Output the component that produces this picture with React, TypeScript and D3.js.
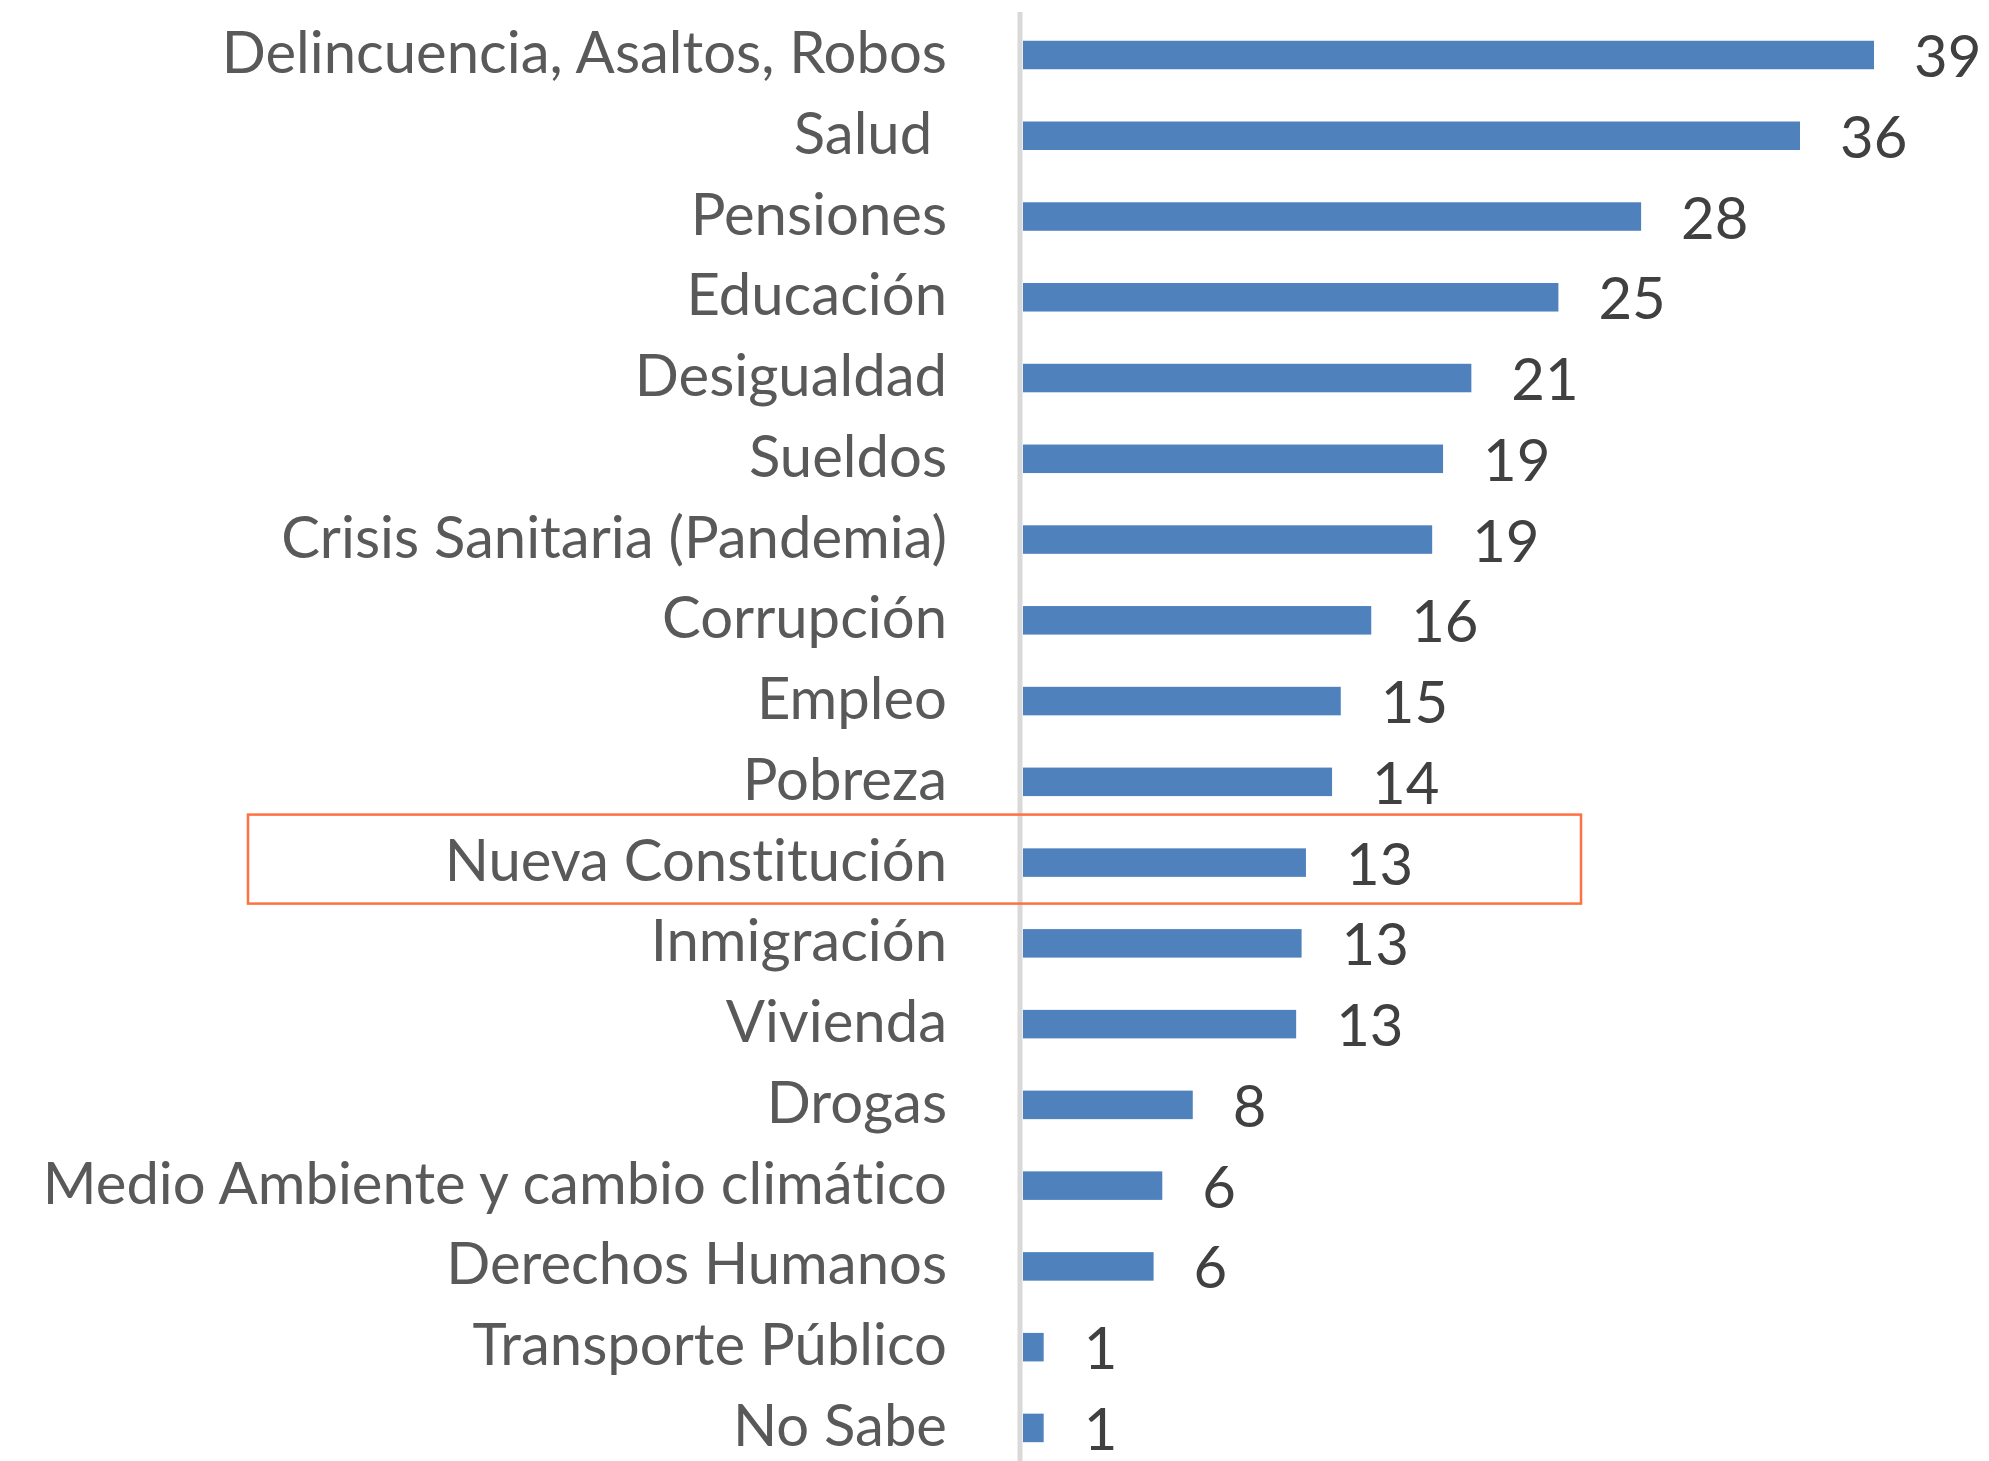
import React from "react";
import * as d3 from "d3";

const categories = [
  "Delincuencia, Asaltos, Robos",
  "Salud ",
  "Pensiones",
  "Educación",
  "Desigualdad",
  "Sueldos",
  "Crisis Sanitaria (Pandemia)",
  "Corrupción",
  "Empleo",
  "Pobreza",
  "Nueva Constitución",
  "Inmigración",
  "Vivienda",
  "Drogas",
  "Medio Ambiente y cambio climático",
  "Derechos Humanos",
  "Transporte Público",
  "No Sabe",
];

const values = [39.1, 35.7, 28.4, 24.6, 20.6, 19.3, 18.8, 16.0, 14.6, 14.2, 13.0, 12.8, 12.55, 7.8, 6.4, 6.0, 0.95, 0.95];

const highlighted = ["Nueva Constitución"];

const W = 1989;
const H = 1461;

export default function App() {
  const x0 = 1023;
  const x = d3.scaleLinear().domain([0, 39.1]).range([x0, 1874]);
  const step = 80.76;
  const y = d3
    .scaleBand<string>()
    .domain(categories)
    .range([55 - step / 2, 55 + step * (categories.length - 1) + step / 2])
    .paddingInner(0.647)
    .paddingOuter(0.647 / 2);
  const fmt = d3.format(".0f");
  const bw = y.bandwidth();

  return (
    <svg
      width={W}
      height={H}
      viewBox={`0 0 ${W} ${H}`}
      style={{ position: "absolute", left: 0, top: 0, background: "#fff" }}
    >
      <rect x={0} y={0} width={W} height={H} fill="#ffffff" />
      {categories.map((c, i) => {
        const yc = (y(c) as number) + bw / 2;
        return (
          <g key={c}>
            <rect
              x={x(0)}
              y={y(c)}
              width={x(values[i]) - x(0)}
              height={bw}
              fill="#4f81bd"
            />
            <text
              x={947}
              y={yc + 18}
              textAnchor="end"
              fontFamily="Lato, 'Open Sans', sans-serif"
              fontSize={58}
              fill="#595959"
              style={{ whiteSpace: "pre", fontVariantLigatures: "none" }}
            >
              {c}
            </text>
            <text
              x={x(values[i]) + 40}
              y={yc + 22}
              textAnchor="start"
              fontFamily="Lato, 'Open Sans', sans-serif"
              fontSize={58}
              fill="#404040"
            >
              {fmt(values[i])}
            </text>
          </g>
        );
      })}
      <line x1={1020} x2={1020} y1={12} y2={H} stroke="#d9d9d9" strokeWidth={5} />
      {highlighted.map((c) => {
        const yc = (y(c) as number) + bw / 2;
        return (
          <rect
            key={c}
            x={248}
            y={yc - 48}
            width={1333}
            height={89}
            fill="none"
            stroke="#ff7043"
            strokeWidth={2.5}
          />
        );
      })}
    </svg>
  );
}
